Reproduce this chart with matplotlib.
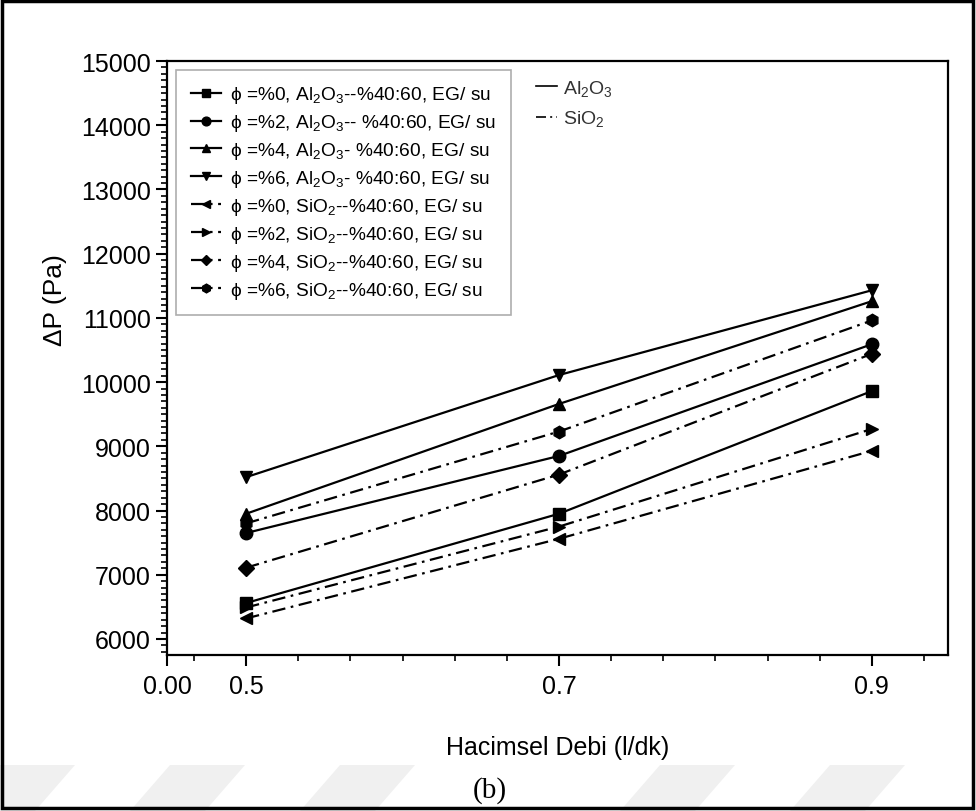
import matplotlib
matplotlib.use('Agg')
import matplotlib.pyplot as plt
from matplotlib.patches import Rectangle, Polygon
from matplotlib.lines import Line2D
import numpy as np

plt.rcParams['font.family'] = ['Liberation Sans', 'DejaVu Sans']
plt.rcParams['mathtext.fontset'] = 'custom'
plt.rcParams['mathtext.rm'] = 'Liberation Sans'
plt.rcParams['mathtext.it'] = 'Liberation Sans:italic'

# hacimsel debi (l/dk) ve basinc dusumu (Pa)
debi = [0.5, 0.7, 0.9]

al_0 = [6560, 7950, 9860]
al_2 = [7650, 8850, 10590]
al_4 = [7950, 9660, 11260]
al_6 = [8520, 10110, 11430]
si_0 = [6320, 7560, 8930]
si_2 = [6490, 7750, 9270]
si_4 = [7110, 8560, 10440]
si_6 = [7800, 9230, 10960]

etiketler = [
    "ϕ =%0, Al$_2$O$_3$--%40:60, EG/ su",
    "ϕ =%2, Al$_2$O$_3$-- %40:60, EG/ su",
    "ϕ =%4, Al$_2$O$_3$- %40:60, EG/ su",
    "ϕ =%6, Al$_2$O$_3$- %40:60, EG/ su",
    "ϕ =%0, SiO$_2$--%40:60, EG/ su",
    "ϕ =%2, SiO$_2$--%40:60, EG/ su",
    "ϕ =%4, SiO$_2$--%40:60, EG/ su",
    "ϕ =%6, SiO$_2$--%40:60, EG/ su",
]
seriler = [al_0, al_2, al_4, al_6, si_0, si_2, si_4, si_6]
isaretler = ['s', 'o', '^', 'v', '<', '>', 'D', 'h']

fig = plt.figure(figsize=(9.76, 8.12), dpi=100)

# soluk filigran seritleri (alt kenar)
for x0 in [-40, 130, 300, 620, 790]:
    fig.patches.append(Polygon([[x0 / 976, 0], [(x0 + 75) / 976, 0],
                                [(x0 + 115) / 976, 46 / 812], [(x0 + 40) / 976, 46 / 812]],
                               closed=True, transform=fig.transFigure,
                               facecolor='#f0f0f0', edgecolor='none', zorder=0))

fig.patches.append(Rectangle((0.002, 0.004), 0.995, 0.994, transform=fig.transFigure,
                             fill=False, edgecolor='black', linewidth=2.5, zorder=5))

ax = fig.add_axes([0.1711, 0.1921, 0.8002, 0.7315])

dashdot = (0, (6, 2.5, 1.2, 2.5))
for i, (y, m) in enumerate(zip(seriler, isaretler)):
    ls = '-' if i < 4 else dashdot
    ax.plot(debi, y, color='black', linestyle=ls, linewidth=1.6,
            marker=m, markersize=9 if m not in ('D', 's') else 8,
            label=etiketler[i])

ax.set_xlim(0.4494, 0.9487)
ax.set_ylim(5750, 15000)

ax.set_xticks([0.4494, 0.5, 0.7, 0.9])
ax.set_xticklabels(['0.00', '0.5', '0.7', '0.9'])
ax.set_xticks(np.arange(0.5 - 0.2 / 6, 0.95, 0.2 / 6), minor=True)
ax.set_yticks(np.arange(6000, 15001, 1000))
ax.set_yticks(np.arange(5800, 15001, 100), minor=True)

ax.tick_params(axis='both', which='major', direction='out', length=8, width=1.5,
               labelsize=18, top=False, right=False)
ax.tick_params(axis='both', which='minor', direction='out', length=4, width=1.2,
               top=False, right=False)
ax.tick_params(axis='x', which='major', pad=6)
for s in ax.spines.values():
    s.set_linewidth(1.6)

ax.set_xlabel('Hacimsel Debi (l/dk)', fontsize=18, labelpad=26)
ax.set_ylabel('ΔP (Pa)', fontsize=19)
ax.yaxis.set_label_coords(-0.128, 0.6)

leg = ax.legend(loc='upper left', bbox_to_anchor=(0.012, 0.985), borderaxespad=0,
                fontsize=13.8, handlelength=1.6, handletextpad=0.45, labelspacing=0.36,
                markerscale=0.7, frameon=True, fancybox=False, borderpad=0.75)
leg.get_frame().set_edgecolor('#999999')
leg.get_frame().set_linewidth(1.2)
ax.add_artist(leg)

ozet = [Line2D([], [], color='black', linewidth=1.2, linestyle='-'),
        Line2D([], [], color='black', linewidth=1.2, linestyle=dashdot)]
ax.legend(ozet, ['Al$_2$O$_3$', 'SiO$_2$'], loc='upper left',
          bbox_to_anchor=(0.462, 0.985), borderaxespad=0, frameon=False,
          fontsize=14, handlelength=1.1, handletextpad=0.3, labelspacing=0.55,
          labelcolor='#333333')

fig.text(0.502, 0.018, '(b)', fontsize=21, family='Liberation Serif', ha='center')

fig.savefig('out.png', dpi=100)
